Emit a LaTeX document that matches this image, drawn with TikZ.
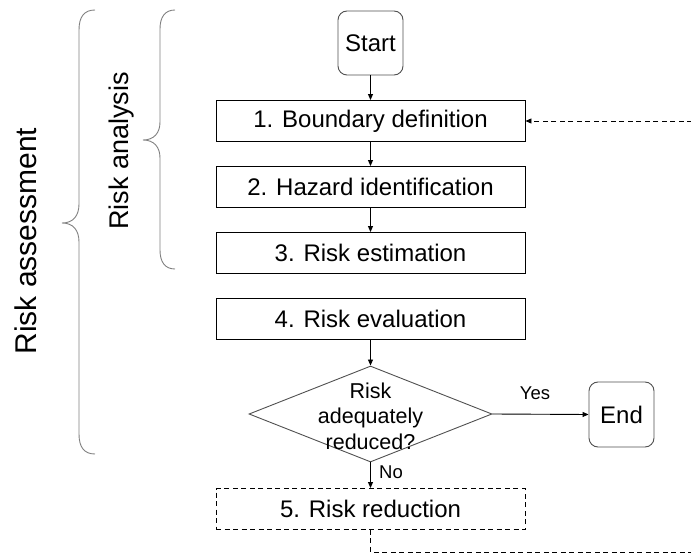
\documentclass[tikz,border=0pt]{standalone}
\usepackage{fontspec}
\setmainfont{Liberation Sans}
\usetikzlibrary{arrows.meta,shapes.geometric}
\definecolor{edgegray}{HTML}{505050}
\definecolor{bracegray}{HTML}{808080}
\tikzset{
  stepbox/.style={draw=black, line width=0.9pt, minimum width=309pt, minimum height=41pt, inner sep=0pt, font=\fontsize{24}{28}\selectfont},
  termbox/.style={draw=edgegray, line width=0.9pt, rounded corners=9pt, minimum width=65pt, minimum height=64pt, inner sep=0pt, font=\fontsize{24}{28}\selectfont},
  decision/.style={draw=edgegray, line width=0.9pt, shape=diamond, minimum width=243pt, minimum height=96pt, inner sep=0pt},
  dtext/.style={font=\fontsize{21.5}{25.5}\selectfont, align=center, inner sep=0pt},
  smalllbl/.style={font=\fontsize{18.5}{22}\selectfont, inner sep=0pt},
  bracelbl/.style={rotate=90, inner sep=0pt},
  flow/.style={line width=0.9pt, -{Triangle[length=6pt,width=5pt]}},
  brace/.style={draw=bracegray, line width=0.9pt},
}
\begin{document}
\begin{tikzpicture}[x=1pt,y=-1pt]
\useasboundingbox (0,0) rectangle (691,553);
\clip (0,0) rectangle (691,553);
% nodes
\node[termbox] (start) at (370.5,43) {Start};
\node[stepbox] (s1) at (370.5,121) {1. Boundary definition};
\node[stepbox] (s2) at (370.5,187) {2. Hazard identification};
\node[stepbox] (s3) at (370.5,253) {3. Risk estimation};
\node[stepbox] (s4) at (370.5,319) {4. Risk evaluation};
\node[decision, label={[dtext, yshift=-2pt]center:{Risk\\adequately\\reduced?}}] (dec) at (370.5,414) {};
\node[termbox, minimum height=65pt] (end) at (621.5,414.5) {End};
\node[stepbox, dashed, dash pattern=on 5pt off 3.5pt] (s5) at (370.5,509) {5. Risk reduction};
% labels
\node[smalllbl] (yes) at (535,393) {Yes};
\node[smalllbl, anchor=west] (no) at (379,472) {No};
% connectors
\draw[flow] (start) -- (s1);
\draw[flow] (s1) -- (s2);
\draw[flow] (s2) -- (s3);
\draw[flow] (s4) -- (dec.north);
\draw[flow] (dec.east) -- (end.west);
\draw[flow] (dec.south) -- (s5.north);
\coordinate (fbcorner) at (700,552);
\draw[flow, dashed, dash pattern=on 5pt off 3.5pt] (s5.south) |- (fbcorner) |- (s1.east);
% braces
\draw[brace] (95,10) .. controls (84,10) and (79,17) .. (79,30) -- (79,204)
  .. controls (79,216) and (73,223) .. (62,223)
  .. controls (73,223) and (79,230) .. (79,242) -- (79,434)
  .. controls (79,447) and (84,454) .. (95,454);
\draw[brace] (175,10) .. controls (165,10) and (160,17) .. (160,29) -- (160,122)
  .. controls (160,133) and (154,140) .. (143,140)
  .. controls (154,140) and (160,147) .. (160,158) -- (160,250)
  .. controls (160,262) and (165,269) .. (175,269);
\node[bracelbl, font=\fontsize{30}{34}\selectfont] (ra) at (26,241) {Risk assessment};
\node[bracelbl, font=\fontsize{27}{31}\selectfont] (rn) at (122,151) {Risk analysis};
\end{tikzpicture}
\end{document}
